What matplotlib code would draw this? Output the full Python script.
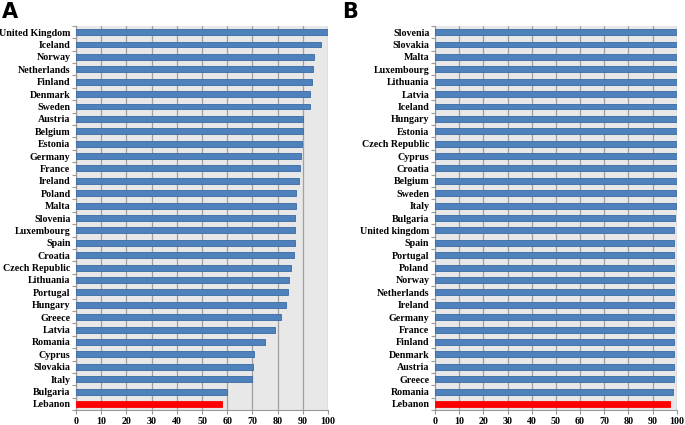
import matplotlib
matplotlib.use("Agg")
import matplotlib.pyplot as plt
import numpy as np

countries_a = ["United Kingdom", "Iceland", "Norway", "Netherlands", "Finland", "Denmark",
               "Sweden", "Austria", "Belgium", "Estonia", "Germany", "France", "Ireland",
               "Poland", "Malta", "Slovenia", "Luxembourg", "Spain", "Croatia",
               "Czech Republic", "Lithuania", "Portugal", "Hungary", "Greece", "Latvia",
               "Romania", "Cyprus", "Slovakia", "Italy", "Bulgaria", "Lebanon"]
values_a = [100, 97.1, 94.3, 94.0, 93.6, 93.0, 92.8, 90.2, 89.9, 89.8, 89.1, 89.0, 88.6,
            87.3, 87.2, 87.0, 86.9, 86.8, 86.5, 85.3, 84.6, 84.0, 83.4, 81.5, 79.1,
            75.0, 70.7, 70.2, 69.9, 60.0, 58.0]

countries_b = ["Slovenia", "Slovakia", "Malta", "Luxembourg", "Lithuania", "Latvia",
               "Iceland", "Hungary", "Estonia", "Czech Republic", "Cyprus", "Croatia",
               "Belgium", "Sweden", "Italy", "Bulgaria", "United kingdom", "Spain",
               "Portugal", "Poland", "Norway", "Netherlands", "Ireland", "Germany",
               "France", "Finland", "Denmark", "Austria", "Greece", "Romania", "Lebanon"]
values_b = [100, 100, 100, 100, 100, 100, 100, 100, 100, 100, 100, 100, 100, 99.7, 99.7,
            99.3, 98.9, 98.9, 98.9, 98.9, 98.8, 98.8, 98.8, 98.8, 98.8, 98.8, 98.8, 98.8,
            98.8, 98.5, 97.0]

xticks = list(range(0, 101, 10))
highlight = "Lebanon"

fig = plt.figure(figsize=(6.85, 4.25), dpi=100)
ax_a = fig.add_axes([0.111, 0.035, 0.368, 0.904])
ax_b = fig.add_axes([0.635, 0.035, 0.353, 0.904])

label_font = dict(family=["Liberation Serif"], weight="bold", size=7.2)

def draw(ax, names, vals):
    n = len(names)
    y = np.arange(n)[::-1]
    colors = ["#ff0000" if c == highlight else "#4f81bd" for c in names]
    edges = ["#ff0000" if c == highlight else "#3a6aa3" for c in names]
    ax.barh(y, vals, height=0.48, color=colors, edgecolor=edges, linewidth=0.6, zorder=3)
    ax.set_facecolor("#e8e8e8")
    ax.set_xlim(0, 100)
    ax.set_ylim(-0.5, n - 0.5)
    ax.set_xticks(xticks)
    ax.set_xticklabels([str(t) for t in xticks], fontdict=label_font)
    ax.set_yticks(y)
    ax.set_yticklabels(names, fontdict=label_font)
    ax.set_yticks(np.arange(-0.5, n, 1.0), minor=True)
    ax.tick_params(axis="y", which="major", length=0, pad=4)
    ax.tick_params(axis="y", which="minor", length=3, color="#999999", width=0.8)
    ax.tick_params(axis="x", length=3, color="#999999", width=0.8, pad=2)
    ax.grid(axis="x", color="#a0a0a0", linewidth=0.9, zorder=0)
    ax.set_axisbelow(True)
    for s in ["top", "right"]:
        ax.spines[s].set_visible(False)
    for s in ["left", "bottom"]:
        ax.spines[s].set_color("#999999")
        ax.spines[s].set_linewidth(0.8)
    return ax

draw(ax_a, countries_a, values_a)
draw(ax_b, countries_b, values_b)

fig.text(0.003, 0.995, "A", fontsize=15, fontweight="bold", family="DejaVu Sans", va="top", ha="left")
fig.text(0.500, 0.995, "B", fontsize=15, fontweight="bold", family="DejaVu Sans", va="top", ha="left")

fig.savefig("out.png", dpi=100)
